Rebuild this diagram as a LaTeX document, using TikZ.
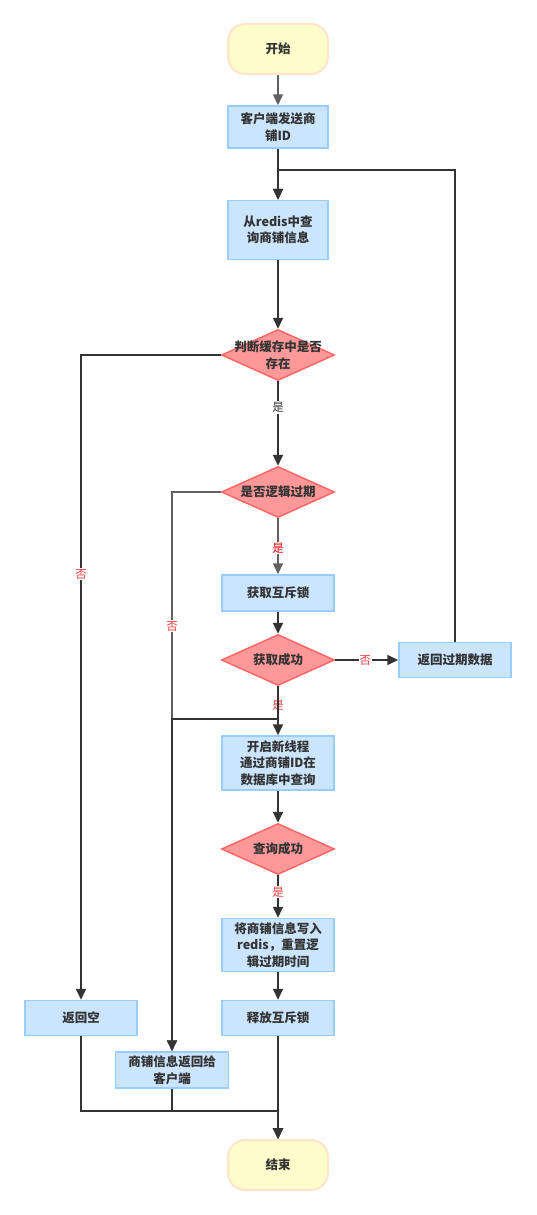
\documentclass[tikz,border=0pt]{standalone}
\usepackage{fontspec}
\setmainfont{Noto Sans CJK SC}
\usetikzlibrary{shapes,arrows.meta}
\tikzset{
  procbox/.style={
    draw=colbox, fill=colboxfill, line width=1.5pt, inner sep=0pt,
    minimum width=112pt, align=center, text=coltxt,
    font=\fontsize{12.5}{16.5}\selectfont\bfseries,
  },
  decision/.style={
    diamond, draw=coldec, fill=coldecfill, line width=1.5pt,
    inner sep=0pt, minimum width=113pt, minimum height=51pt,
  },
  dectext/.style={
    align=center, text=coltxt, inner sep=0pt,
    font=\fontsize{12.5}{16.5}\selectfont\bfseries,
  },
  terminal/.style={
    draw=colterm, fill=coltermfill, line width=2pt, rounded corners=17pt,
    minimum width=100pt, minimum height=50pt, text=coltxt,
    font=\fontsize{12.5}{16.5}\selectfont\bfseries,
  },
  flow/.style={
    draw=colline, line width=1.8pt,
    -{Triangle[width=10pt,length=11pt]},
  },
  answer/.style={
    fill=white, inner sep=1pt, text=colans,
    font=\fontsize{11.5}{12}\selectfont,
  },
}

\begin{document}
\begin{tikzpicture}[x=1pt, y=-1pt]
% Defining colors
\definecolor{lightsky}{HTML}{CCE5FF}
\definecolor{skyblue}{HTML}{99CCFF}
\definecolor{salmonpink}{HTML}{FF9999}
\definecolor{coralred}{HTML}{FF6666}
\definecolor{creamyellow}{HTML}{FFFCCC}
\definecolor{peach}{HTML}{FFE4CC}
\definecolor{charcoal}{HTML}{333333}
\definecolor{dimgray}{HTML}{616161}
\definecolor{labelred}{HTML}{F03C3C}

% Defining colors associated with different nodes
\colorlet{colbox}{skyblue}
\colorlet{colboxfill}{lightsky}
\colorlet{coldec}{coralred}
\colorlet{coldecfill}{salmonpink}
\colorlet{colterm}{peach}
\colorlet{coltermfill}{creamyellow}
\colorlet{coltxt}{charcoal}
\colorlet{colline}{charcoal}
\colorlet{colans}{labelred}

\useasboundingbox (0, 0) rectangle (536, 1215);

% =:=:=:=:=:=:=:=:=:=:=:=:=:=:=:=:=:=:=
% Main column
% =:=:=:=:=:=:=:=:=:=:=:=:=:=:=:=:=:=:=
\node[terminal] (start) at (278, 49) {开始};
\node[procbox, minimum width=100pt, minimum height=42pt]
    (send) at (278, 127) {客户端发送商\\铺ID};
\node[procbox, minimum width=100pt, minimum height=59pt]
    (query) at (278, 230) {从redis中查\\询商铺信息};
\node[decision, label={[dectext]center:{判断缓存中是否\\存在}}]
    (exist) at (278, 355) {};
\node[decision, label={[dectext]center:{是否逻辑过期}}]
    (expire) at (278, 492) {};
\node[procbox, minimum height=36pt] (lock) at (278, 593) {获取互斥锁};
\node[decision, label={[dectext]center:{获取成功}}]
    (gotlock) at (278, 660) {};
\node[procbox, minimum height=54pt]
    (thread) at (278, 763) {开启新线程\\通过商铺ID在\\数据库中查询};
\node[decision, label={[dectext]center:{查询成功}}]
    (found) at (278, 849) {};
\node[procbox, minimum height=53pt]
    (write) at (278, 945) {将商铺信息写入\\redis，重置逻\\辑过期时间};
\node[procbox, minimum height=35pt] (unlock) at (278, 1018) {释放互斥锁};
\node[terminal] (end) at (278, 1165) {结束};

% =:=:=:=:=:=:=:=:=:=:=:=:=:=:=:=:=:=:=
% Side boxes
% =:=:=:=:=:=:=:=:=:=:=:=:=:=:=:=:=:=:=
\node[procbox, minimum height=35pt] (stale) at (455, 660) {返回过期数据};
\node[procbox, minimum height=35pt] (empty) at (81, 1018) {返回空};
\node[procbox, minimum width=113pt, minimum height=36pt]
    (reply) at (172, 1070) {商铺信息返回给\\客户端};

% Bend points
\coordinate (loop) at (455, 170);
\coordinate (split) at (278, 719);
\coordinate (merge) at (278, 1111);

% =:=:=:=:=:=:=:=:=:=:=:=:=:=:=:=:=:=:=
% Connectors
% =:=:=:=:=:=:=:=:=:=:=:=:=:=:=:=:=:=:=
\draw[flow, draw=dimgray, line width=1.5pt] (start) -- (send);
\draw[flow] (send) -- (query);
\draw[flow] (stale.north) -- (loop) -| (query.north);
\draw[flow] (query) -- (exist);

\draw[flow] (exist) -- (expire)
    node[pos=0.31, answer, text=coltxt] {是};
\draw[flow] (exist.west) -| (empty.north)
    node[pos=0.67, answer] {否};

\draw[flow, draw=dimgray, line width=1.5pt] (expire) -- (lock)
    node[pos=0.53, answer, text=red] {是};
\draw[flow, draw=dimgray, line width=1.5pt] (expire.west) -| (reply.north)
    node[pos=0.62, answer] {否};

\draw[flow] (lock) -- (gotlock);
\draw[flow] (gotlock) -- (stale)
    node[pos=0.48, answer] {否};
\draw[flow] (gotlock) -- (thread)
    node[pos=0.4, answer] {是};
\draw[flow] (gotlock.south) -- (split) -| (reply.north);

\draw[flow] (thread) -- (found);
\draw[flow] (found) -- (write)
    node[pos=0.4, answer] {是};
\draw[flow] (write) -- (unlock);
\draw[flow] (unlock) -- (end);

\draw[flow] (empty.south) |- (merge) -- (end.north);
\draw[flow] (reply.south) |- (merge) -- (end.north);

\end{tikzpicture}
\end{document}
